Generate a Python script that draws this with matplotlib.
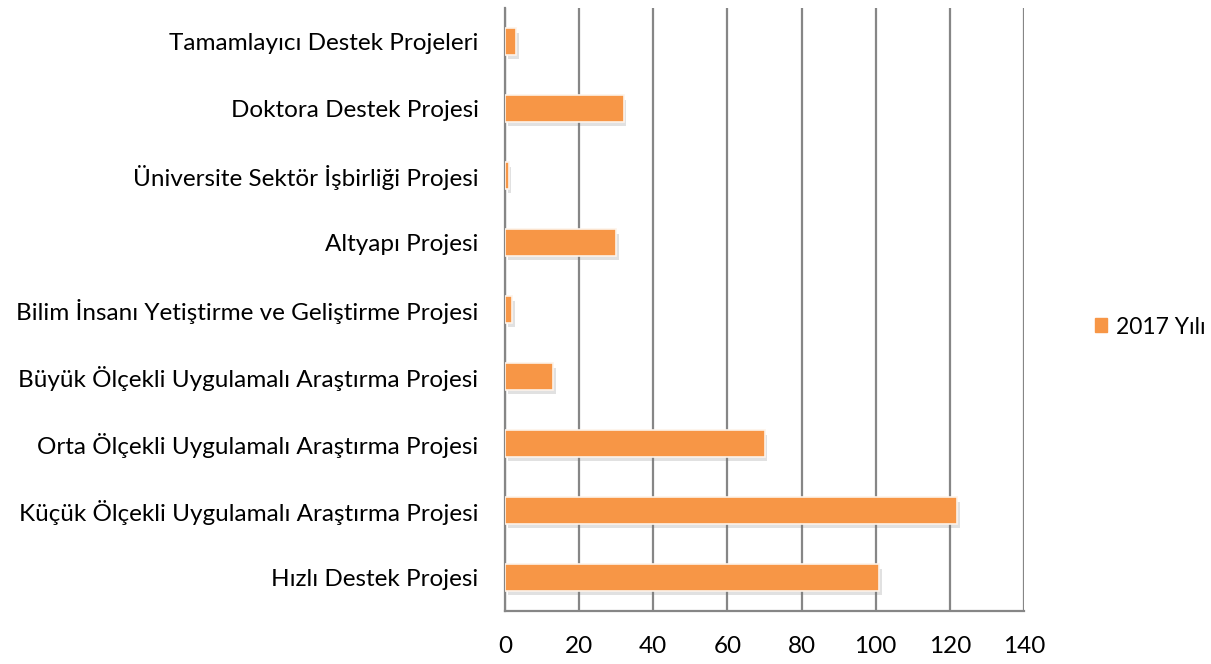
import numpy as np
import matplotlib
matplotlib.use("Agg")
import matplotlib.pyplot as plt
import matplotlib.patheffects as pe
from matplotlib.patches import Patch

categories = ["Hızlı Destek Projesi",
              "Küçük Ölçekli Uygulamalı Araştırma Projesi",
              "Orta Ölçekli Uygulamalı Araştırma Projesi",
              "Büyük Ölçekli Uygulamalı Araştırma Projesi",
              "Bilim İnsanı Yetiştirme ve Geliştirme Projesi",
              "Altyapı Projesi",
              "Üniversite Sektör İşbirliği Projesi",
              "Doktora Destek Projesi",
              "Tamamlayıcı Destek Projeleri"]
values_2017 = [101, 122, 70, 13, 2, 30, 1, 32, 3]
series_name = "2017 Yılı"
xticks = [0, 20, 40, 60, 80, 100, 120, 140]

plt.rcParams['font.family'] = ['Lato', 'DejaVu Sans']
orange = '#F79646'
grid_c = '#868686'

fig = plt.figure(figsize=(12.11, 6.64), dpi=100)
ax = fig.add_axes([505/1211, 1-611/664, 519/1211, 603/664])

y = np.arange(len(categories))
shadow = [pe.SimplePatchShadow(offset=(2, -3), shadow_rgbFace='#777777', alpha=0.22), pe.Normal()]
bars = ax.barh(y, values_2017, height=0.39, color=orange, edgecolor='#fdf3ea',
               linewidth=1.2, zorder=3)
for b in bars:
    b.set_path_effects(shadow)

ax.set_xlim(0, 140)
ax.set_ylim(-0.5, len(categories) - 0.5)
ax.set_xticks(xticks)
ax.set_yticks(y)
ax.set_yticklabels(categories)
ax.xaxis.grid(True, color=grid_c, linewidth=1.6, zorder=0)
ax.set_axisbelow(True)
for s in ['top', 'right']:
    ax.spines[s].set_visible(False)
for s in ['left', 'bottom']:
    ax.spines[s].set_color(grid_c)
    ax.spines[s].set_linewidth(1.6)
ax.tick_params(axis='both', length=0, labelsize=17.5, colors='black')
ax.tick_params(axis='x', pad=18)
ax.tick_params(axis='y', pad=19)

fig.legend(handles=[Patch(color=orange)], labels=[series_name], loc='center left',
           bbox_to_anchor=(1074/1211, 1-327/664), frameon=False, fontsize=16.5,
           handlelength=0.55, handleheight=0.55, handletextpad=0.4)

fig.savefig("out.png", dpi=100)
